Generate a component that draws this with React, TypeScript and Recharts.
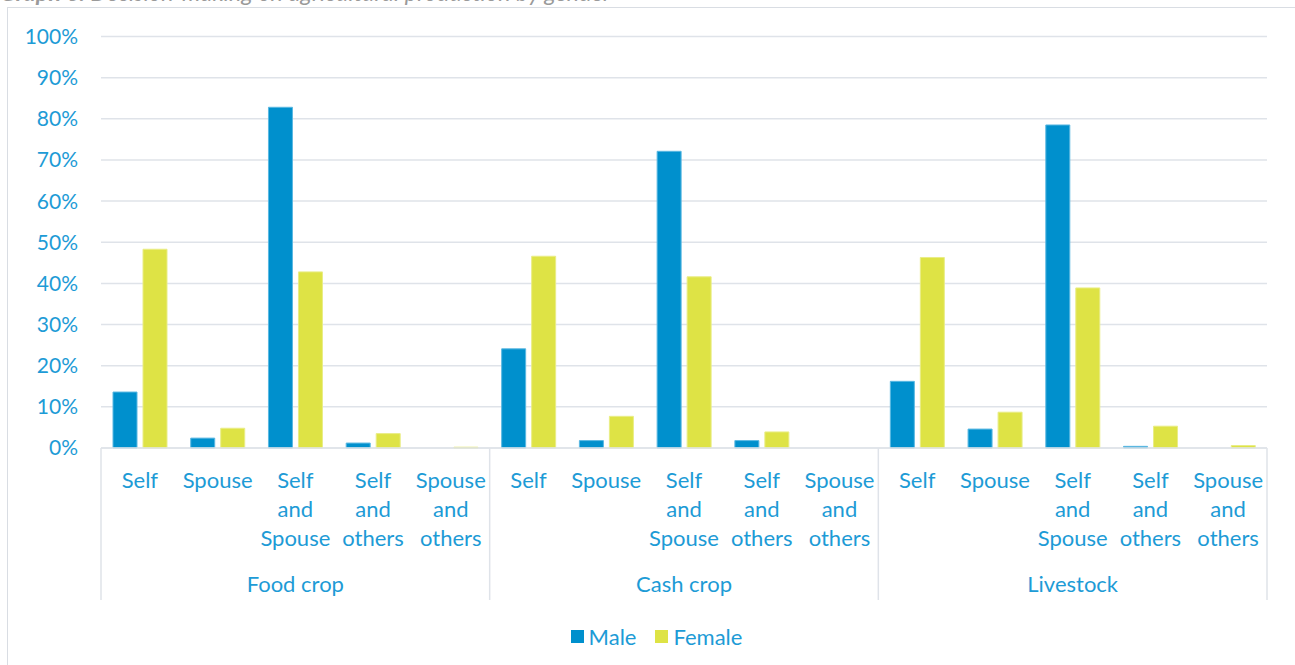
import React from 'react';
import { BarChart, Bar, XAxis, YAxis, CartesianGrid, Legend } from 'recharts';

// Decision-making shares (%) per activity group and respondent type
const groups = ['Food crop', 'Cash crop', 'Livestock'];
const decisionMakers = ['Self', 'Spouse', 'Self and Spouse', 'Self and others', 'Spouse and others'];
const seriesNames = ['Male', 'Female'];

const maleFood = [13.6, 2.4, 82.8, 1.2, 0];
const femaleFood = [48.3, 4.8, 42.8, 3.5, 0.2];
const maleCash = [24.1, 1.8, 72.1, 1.8, 0];
const femaleCash = [46.6, 7.7, 41.6, 3.9, 0];
const maleLivestock = [16.2, 4.6, 78.5, 0.4, 0];
const femaleLivestock = [46.3, 8.7, 38.9, 5.3, 0.6];

const yTicks = [0, 10, 20, 30, 40, 50, 60, 70, 80, 90, 100];

const maleSeries = [maleFood, maleCash, maleLivestock];
const femaleSeries = [femaleFood, femaleCash, femaleLivestock];

const data = groups.flatMap((g, gi) =>
  decisionMakers.map((d, di) => ({
    key: `${g}|${d}`,
    group: g,
    label: d,
    Male: maleSeries[gi][di],
    Female: femaleSeries[gi][di],
  }))
);

const CHART_W = 1295;
const CHART_H = 665;
const MARGIN = { top: 36.5, right: 28, bottom: 9, left: 0 };
const Y_AXIS_W = 101;
const PLOT_W = CHART_W - MARGIN.left - MARGIN.right - Y_AXIS_W;
const SLOT = PLOT_W / data.length;

const TEXT = '#1d9bd6';
const GRID = '#dfe3e9';
const MALE = '#0090cd';
const FEMALE = '#dee345';
const FONT = 'Lato, "Open Sans", sans-serif';

const CategoryTick = (props: any) => {
  const { x, y, payload, index } = props;
  const row = data[index];
  const words = String(payload.value).split('|')[1].split(' ');
  const perGroup = decisionMakers.length;
  const pos = index % perGroup;
  return (
    <g>
      {words.map((w: string, i: number) => (
        <text
          key={i}
          x={x}
          y={y + 40 + i * 29}
          textAnchor="middle"
          fill={TEXT}
          fontSize={22}
          fontFamily={FONT}
        >
          {w}
        </text>
      ))}
      {pos === 0 && (
        <line x1={x - SLOT / 2} x2={x - SLOT / 2} y1={y} y2={y + 152} stroke={GRID} strokeWidth={1.5} />
      )}
      {index === data.length - 1 && (
        <line x1={x + SLOT / 2} x2={x + SLOT / 2} y1={y} y2={y + 152} stroke={GRID} strokeWidth={1.5} />
      )}
      {pos === Math.floor(perGroup / 2) && (
        <text x={x} y={y + 144} textAnchor="middle" fill={TEXT} fontSize={22} fontFamily={FONT}>
          {row.group}
        </text>
      )}
    </g>
  );
};

const LegendContent = (props: any) => {
  const items = [...(props.payload || [])].sort(
    (a: any, b: any) => seriesNames.indexOf(a.value) - seriesNames.indexOf(b.value)
  );
  return (
    <div
      style={{
        height: 40,
        display: 'flex',
        justifyContent: 'center',
        alignItems: 'center',
        paddingLeft: 18,
        fontFamily: FONT,
        fontSize: 22,
        color: TEXT,
      }}
    >
      {items.map((it: any, i: number) => (
        <div key={it.value} style={{ display: 'flex', alignItems: 'center', marginLeft: i === 0 ? 0 : 19 }}>
          <span style={{ width: 13, height: 13, background: it.color, display: 'inline-block', marginRight: 5 }} />
          <span>{it.value}</span>
        </div>
      ))}
    </div>
  );
};

export default function App() {
  return (
    <div style={{ position: 'absolute', left: 0, top: 0, width: CHART_W, height: CHART_H, overflow: 'hidden', background: '#fff' }}>
      <div
        style={{
          position: 'absolute',
          left: 0,
          top: -22,
          fontFamily: FONT,
          fontSize: 23.5,
          fontStyle: 'italic',
          color: '#9a9a9a',
          whiteSpace: 'nowrap',
          lineHeight: 1.2,
        }}
      >
        <b>Graph 6:</b> Decision-making on agricultural production by gender
      </div>
      <div
        style={{
          position: 'absolute',
          left: 7,
          top: 7,
          width: 1320,
          height: 700,
          border: '1px solid #d9dde3',
          boxSizing: 'border-box',
        }}
      />
      <div style={{ position: 'absolute', left: 0, top: 0 }}>
        <BarChart
          width={CHART_W}
          height={CHART_H}
          data={data}
          margin={MARGIN}
          barSize={24}
          barGap={6}
        >
          <CartesianGrid horizontal vertical={false} stroke={GRID} strokeWidth={1.5} />
          <XAxis
            dataKey="key"
            interval={0}
            tickLine={false}
            tickSize={0}
            tickMargin={0}
            axisLine={{ stroke: GRID, strokeWidth: 1.5 }}
            height={168}
            tick={<CategoryTick />}
          />
          <YAxis
            width={Y_AXIS_W}
            domain={[0, 100]}
            ticks={yTicks}
            axisLine={false}
            tickLine={false}
            tickMargin={17}
            tickFormatter={(v: number) => `${v}%`}
            tick={{ fill: TEXT, fontSize: 21, fontFamily: FONT }}
          />
          <Legend
            verticalAlign="bottom"
            content={<LegendContent />}
            wrapperStyle={{ left: 0, width: CHART_W }}
          />
          <Bar dataKey="Male" fill={MALE} stroke="#5ab8e2" strokeWidth={1} isAnimationActive={false} />
          <Bar dataKey="Female" fill={FEMALE} stroke="#e9ed86" strokeWidth={1} isAnimationActive={false} />
        </BarChart>
      </div>
    </div>
  );
}
